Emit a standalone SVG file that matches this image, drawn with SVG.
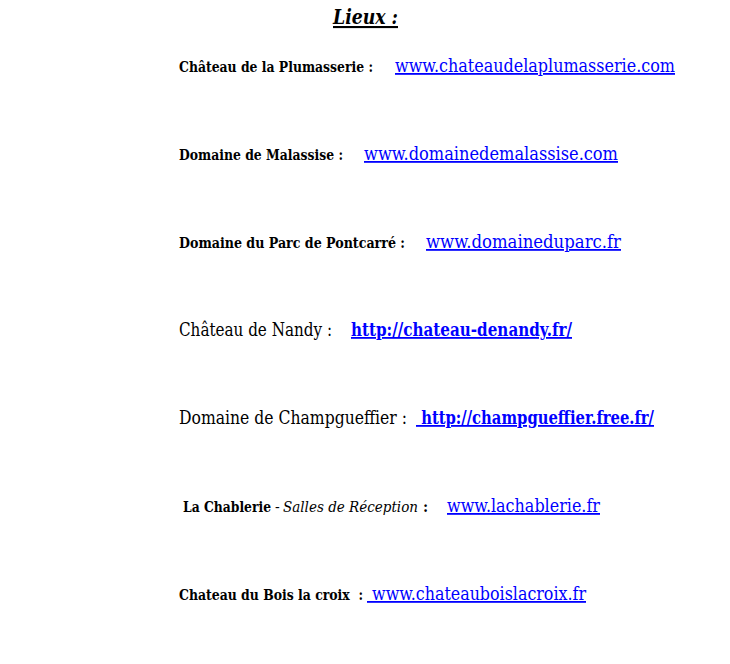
<svg xmlns="http://www.w3.org/2000/svg" width="730" height="664" viewBox="0 0 730 664">
<style>
text{font-family:"DejaVu Serif","Liberation Serif",serif;font-stretch:condensed;fill:#000}
.t{font-size:21px;font-weight:bold;font-style:italic;text-decoration:underline}
.lb{font-size:15.5px;font-weight:bold}
.lr{font-size:18px}
.it{font-style:italic;font-weight:normal}
.nw{font-weight:normal}
.ln{font-size:18px;fill:#0000ff;text-decoration:underline}
.bd{font-weight:bold}
</style>
<rect width="730" height="664" fill="#fff"/>
<g id="title"><text class="t" x="333" y="24" textLength="65" lengthAdjust="spacingAndGlyphs">Lieux :</text></g>
<g id="row1">
<text class="lb" x="179" y="72" textLength="194" lengthAdjust="spacingAndGlyphs">Château de la Plumasserie :</text>
<text class="ln" x="395" y="72" textLength="280" lengthAdjust="spacingAndGlyphs">www.chateaudelaplumasserie.com</text>
</g>
<g id="row2">
<text class="lb" x="179" y="160" textLength="164" lengthAdjust="spacingAndGlyphs">Domaine de Malassise :</text>
<text class="ln" x="364" y="160" textLength="254" lengthAdjust="spacingAndGlyphs">www.domainedemalassise.com</text>
</g>
<g id="row3">
<text class="lb" x="179" y="248" textLength="226" lengthAdjust="spacingAndGlyphs">Domaine du Parc de Pontcarré :</text>
<text class="ln" x="426" y="248" textLength="195" lengthAdjust="spacingAndGlyphs">www.domaineduparc.fr</text>
</g>
<g id="row4">
<text class="lr" x="179" y="336" textLength="153" lengthAdjust="spacingAndGlyphs">Château de Nandy :</text>
<text class="ln bd" x="351" y="336" textLength="221" lengthAdjust="spacingAndGlyphs">http://chateau-denandy.fr/</text>
</g>
<g id="row5">
<text class="lr" x="179" y="424" textLength="228" lengthAdjust="spacingAndGlyphs">Domaine de Champgueffier :</text>
<text class="ln bd" x="416" y="424" textLength="238" lengthAdjust="spacingAndGlyphs" xml:space="preserve"> http://champgueffier.free.fr/</text>
</g>
<g id="row6">
<text class="lb" y="512"><tspan x="183" textLength="88" lengthAdjust="spacingAndGlyphs">La Chablerie</tspan><tspan class="nw" x="275">-</tspan><tspan class="it" x="283" textLength="135" lengthAdjust="spacingAndGlyphs">Salles de Réception</tspan><tspan x="423">:</tspan></text>
<text class="ln" x="447" y="512" textLength="153" lengthAdjust="spacingAndGlyphs">www.lachablerie.fr</text>
</g>
<g id="row7">
<text class="lb" x="179" y="600" textLength="184" lengthAdjust="spacingAndGlyphs" xml:space="preserve">Chateau du Bois la croix  :</text>
<text class="ln" x="367" y="600" textLength="219" lengthAdjust="spacingAndGlyphs" xml:space="preserve"> www.chateauboislacroix.fr</text>
</g>
</svg>
